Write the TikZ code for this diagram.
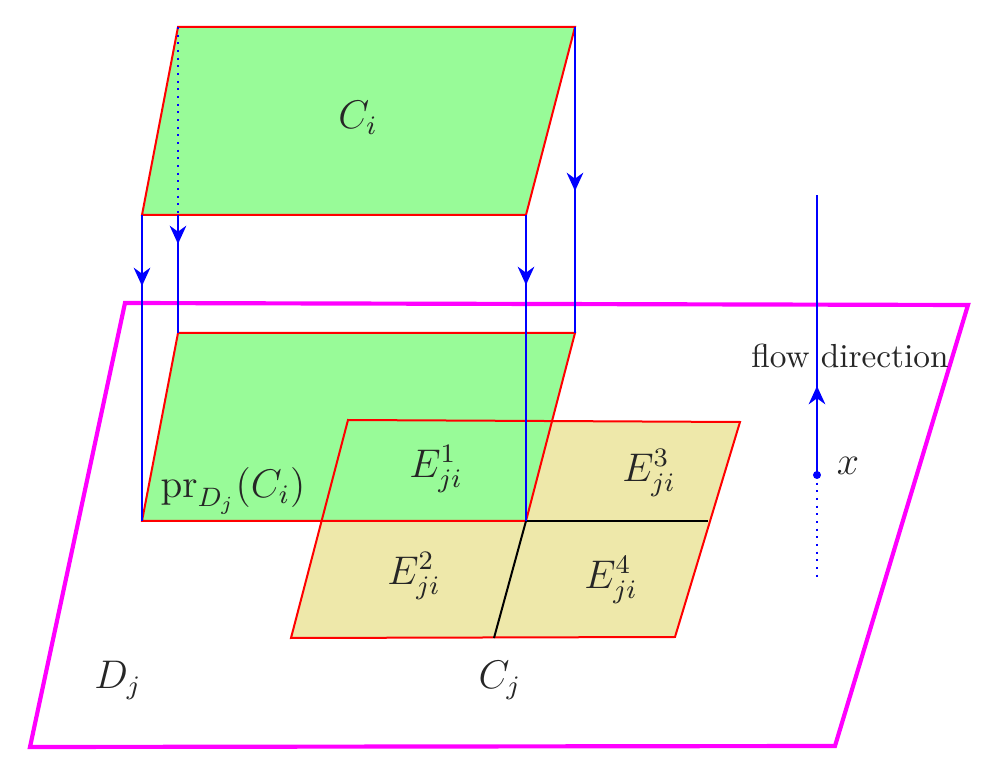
\documentclass[tikz,border=0pt]{standalone}
\usetikzlibrary{arrows.meta}
\definecolor{pgreen}{RGB}{152,251,152}
\definecolor{pyellow}{RGB}{238,232,170}
\definecolor{pmag}{RGB}{255,0,255}
\tikzset{
  region/.style={draw=red, line width=0.6pt, line join=miter},
  plane/.style={draw=pmag, line width=1.25pt},
  projline/.style={draw=blue, line width=0.6pt},
  projarrow/.style={draw=blue, line width=0.6pt, -{Stealth[length=5.5pt,width=5pt,inset=1.8pt]}},
  dotline/.style={draw=blue, line width=0.6pt, dash pattern=on 0.6pt off 1.7pt},
  divline/.style={draw=black, line width=0.6pt},
  lab/.style={inner sep=0pt, text=black!85},
  mlab/.style={lab, font=\fontsize{11.6}{14}\selectfont}
}
\begin{document}
\begin{tikzpicture}[x=0.3pt,y=-0.3pt]
\useasboundingbox (0,0) rectangle (997,778);
% plane D_j
\coordinate (D1) at (125,303);
\coordinate (D2) at (968,305);
\coordinate (D3) at (835,746);
\coordinate (D4) at (30,747);
\draw[plane] (D1) -- (D2) -- (D3) -- (D4) -- cycle;
% top region C_i
\coordinate (A1) at (178,27);
\coordinate (A2) at (575,27);
\coordinate (A3) at (526,215);
\coordinate (A4) at (142,215);
% projection
\coordinate (P1) at (178,333);
\coordinate (P2) at (575,333);
\coordinate (P3) at (526,521);
\coordinate (P4) at (142,521);
% C_j
\coordinate (Y1) at (348,420);
\coordinate (Y2) at (740,422);
\coordinate (Y3) at (675,637);
\coordinate (Y4) at (291,638);
\coordinate (YR) at (708,521);
\coordinate (YB) at (494,638);
% fills
\fill[pyellow] (Y1) -- (Y2) -- (Y3) -- (Y4) -- cycle;
\fill[pgreen] (P1) -- (P2) -- (P3) -- (P4) -- cycle;
\draw[region] (Y1) -- (Y2) -- (Y3) -- (Y4) -- cycle;
\draw[region] (P1) -- (P2) -- (P3) -- (P4) -- cycle;
\draw[divline] (P3) -- (YR);
\draw[divline] (P3) -- (YB);
\filldraw[region, fill=pgreen] (A1) -- (A2) -- (A3) -- (A4) -- cycle;
% projection lines
\coordinate (T1) at (142,286);
\coordinate (T2) at (178,244);
\coordinate (T3) at (526,285);
\coordinate (T4) at (575,191);
\draw[projline] (A4) -- (P4);
\draw[projarrow] (A4) -- (T1);
\draw[dotline] (A1) -- (178,215) coordinate (A1b);
\draw[projline] (A1b) -- (P1);
\draw[projarrow] (A1b) -- (T2);
\draw[projline] (A3) -- (P3);
\draw[projarrow] (A3) -- (T3);
\draw[projline] (A2) -- (P2);
\draw[projarrow] (A2) -- (T4);
% flow direction
\coordinate (F0) at (817,195);
\coordinate (FX) at (817,475);
\coordinate (FA) at (817,386);
\coordinate (FE) at (817,580);
\draw[projline] (FX) -- (F0);
\draw[projarrow] (FX) -- (FA);
\draw[dotline] (FX) -- (FE);
\fill[blue] (FX) circle (1.2pt);
% labels
\node[mlab] (lCi) at (358,118) {$C_i$};
\node[mlab] (lE1) at (436,469) {$E^1_{ji}$};
\node[mlab] (lE3) at (649,473) {$E^3_{ji}$};
\node[mlab] (lE2) at (414,576) {$E^2_{ji}$};
\node[mlab] (lE4) at (611,580) {$E^4_{ji}$};
\node[mlab] (lpr) at (233,491) {$\mathrm{pr}_{D_j}(C_i)$};
\node[mlab] (lDj) at (118,680) {$D_j$};
\node[mlab] (lCj) at (500,680) {$C_j$};
\node[lab] (lflow) at (850,356) {flow direction};
\node[mlab] (lx) at (848,466) {$x$};
\end{tikzpicture}
\end{document}
